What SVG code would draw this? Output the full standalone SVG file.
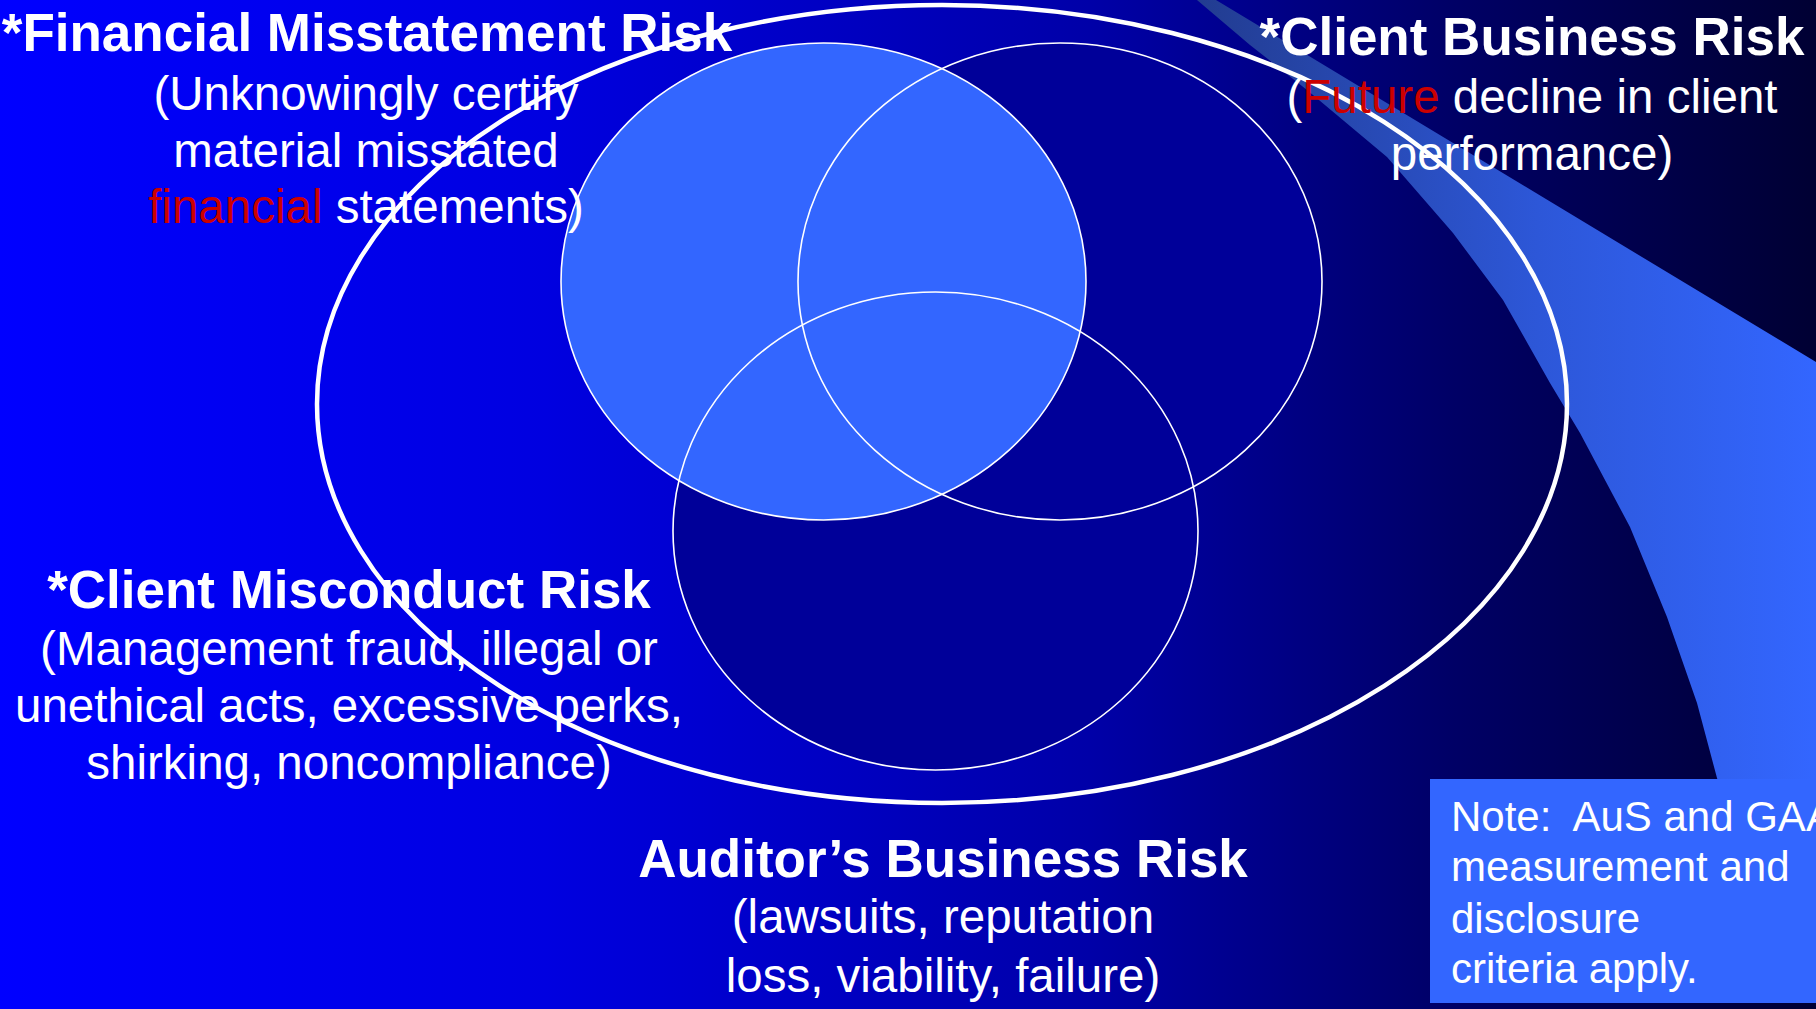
<svg xmlns="http://www.w3.org/2000/svg" width="1816" height="1009" viewBox="0 0 1816 1009">
  <defs>
    <linearGradient id="bg" x1="0" y1="0" x2="1816" y2="0" gradientUnits="userSpaceOnUse">
      <stop offset="0" stop-color="#0000FF"/>
      <stop offset="0.3" stop-color="#0000E0"/>
      <stop offset="0.6" stop-color="#0000A8"/>
      <stop offset="0.8" stop-color="#000066"/>
      <stop offset="1" stop-color="#000033"/>
    </linearGradient>
    <linearGradient id="band" x1="1197" y1="0" x2="1816" y2="0" gradientUnits="userSpaceOnUse">
      <stop offset="0" stop-color="#223C90"/>
      <stop offset="0.55" stop-color="#2D57D8"/>
      <stop offset="1" stop-color="#3366FF"/>
    </linearGradient>
    <style>
      .t { font-family: "Liberation Sans", Arial, sans-serif; fill: #FFFFFF; }
      .h { font-size: 53px; font-weight: bold; text-anchor: middle; }
      .s { font-size: 47.5px; text-anchor: middle; }
      .n { font-size: 42px; white-space: pre; }
      .red { fill: #CC0000; }
      .ring { fill: none; stroke: #FFFFFF; stroke-width: 1.6; }
      .dark { fill: #000099; }
    </style>
  </defs>

  <rect x="0" y="0" width="1816" height="1009" fill="url(#bg)"/>

  <path id="swoosh" d="M1197,0 L1216,0 L1816,362 L1816,830 L1735,830 L1717,778 L1697,703 L1667,617 L1630,527 L1580,433 L1550,383 L1503,300 L1453,233 L1387,157 L1307,90 L1250,45 Z" fill="url(#band)"/>

  <g id="circle-client-business">
    <ellipse class="dark" cx="1060" cy="281.5" rx="262" ry="238.5"/>
  </g>
  <g id="circle-client-misconduct">
    <ellipse class="dark" cx="935.5" cy="531" rx="262.5" ry="239"/>
  </g>
  <g id="circle-financial-misstatement">
    <ellipse cx="823.5" cy="281.5" rx="262.5" ry="238.5" fill="#3366FF"/>
  </g>
  <g id="outlines">
    <ellipse class="ring" cx="823.5" cy="281.5" rx="262.5" ry="238.5"/>
    <ellipse class="ring" cx="1060" cy="281.5" rx="262" ry="238.5"/>
    <ellipse class="ring" cx="935.5" cy="531" rx="262.5" ry="239"/>
  </g>
  <g id="auditor-business-risk-ellipse">
    <ellipse cx="942" cy="404" rx="625" ry="399" fill="none" stroke="#FFFFFF" stroke-width="4.5"/>
  </g>

  <g id="label-financial">
    <text class="t h" x="367" y="51">*Financial Misstatement Risk</text>
    <text class="t s" x="366" y="110">(Unknowingly certify</text>
    <text class="t s" x="366" y="166.5">material misstated</text>
    <text class="t s" x="366" y="222.7"><tspan class="red">financial</tspan> statements)</text>
  </g>

  <g id="label-client-business">
    <text class="t h" x="1532" y="55">*Client Business Risk</text>
    <text class="t s" x="1532" y="113.3">(<tspan class="red">Future</tspan> decline in client</text>
    <text class="t s" x="1532" y="170">performance)</text>
  </g>

  <g id="label-client-misconduct">
    <text class="t h" x="349" y="608.3">*Client Misconduct Risk</text>
    <text class="t s" x="349" y="665">(Management fraud, illegal or</text>
    <text class="t s" x="349" y="721.7">unethical acts, excessive perks,</text>
    <text class="t s" x="349" y="779.3">shirking, noncompliance)</text>
  </g>

  <g id="label-auditor">
    <text class="t h" x="943" y="876.7">Auditor’s Business Risk</text>
    <text class="t s" x="943" y="933.3">(lawsuits, reputation</text>
    <text class="t s" x="943" y="991.7">loss, viability, failure)</text>
  </g>

  <g id="note">
    <rect x="1430" y="779" width="400" height="224" fill="#3366FF"/>
    <text class="t n" x="1451" y="831">Note:  AuS and GAAP</text>
    <text class="t n" x="1451" y="881">measurement and</text>
    <text class="t n" x="1451" y="933">disclosure</text>
    <text class="t n" x="1451" y="983">criteria apply.</text>
  </g>
</svg>
